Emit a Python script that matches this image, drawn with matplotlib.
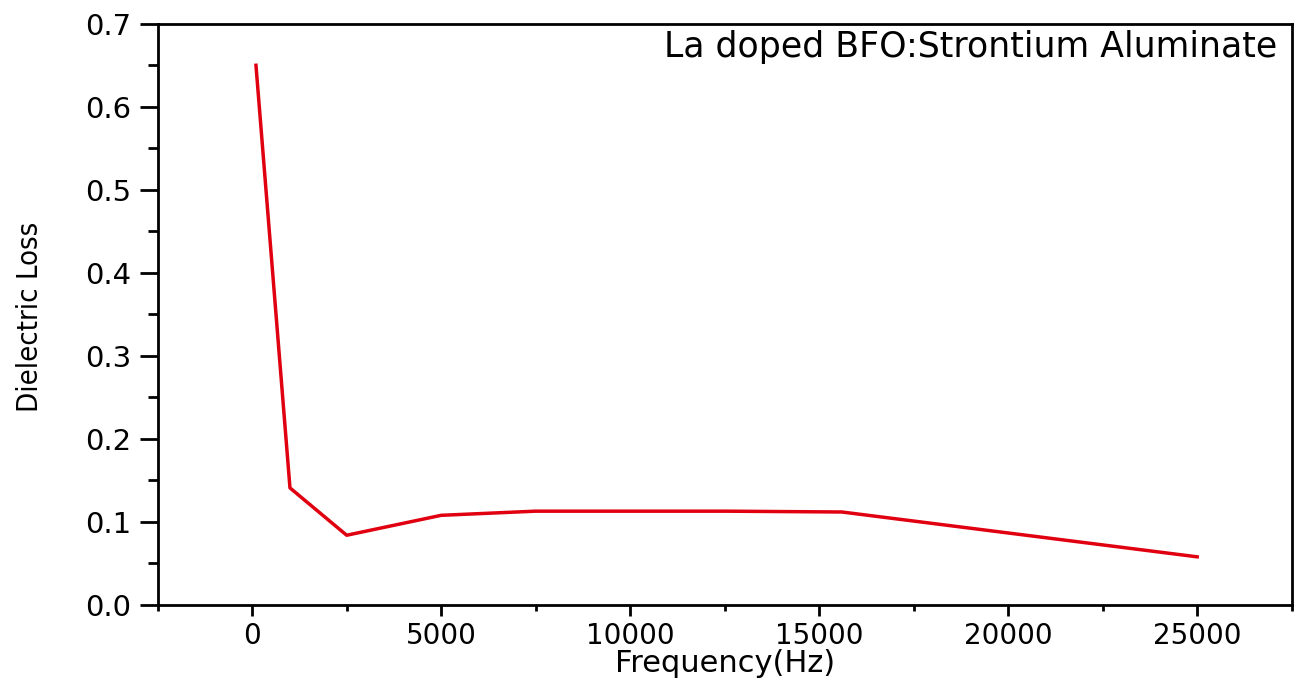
import matplotlib.pyplot as plt
from matplotlib.ticker import MultipleLocator

# Frequency (Hz) vs dielectric loss
frequency = [100, 1000, 2500, 5000, 7500, 10000, 12500, 15600, 25000]
dielectric_loss = [0.650, 0.141, 0.084, 0.108, 0.113, 0.113, 0.113, 0.112, 0.058]

sample_label = 'La doped BFO:Strontium Aluminate'
x_label = 'Frequency(Hz)'
y_label = 'Dielectric Loss'

plt.rcParams['font.family'] = ['DejaVu Sans']

fig = plt.figure(figsize=(13.14, 6.79), dpi=100)
ax = fig.add_axes([0.120, 0.109, 0.863, 0.856])

ax.plot(frequency, dielectric_loss, color='#e00010', linewidth=2.5)

ax.set_xlim(-2500, 27500)
ax.set_ylim(0, 0.7)
ax.xaxis.set_major_locator(MultipleLocator(5000))
ax.xaxis.set_minor_locator(MultipleLocator(2500))
ax.yaxis.set_major_locator(MultipleLocator(0.1))
ax.yaxis.set_minor_locator(MultipleLocator(0.05))
ax.yaxis.set_major_formatter(plt.FormatStrFormatter('%.1f'))

for s in ax.spines.values():
    s.set_linewidth(2.0)

ax.tick_params(axis='y', which='major', direction='out', length=13, width=2, labelsize=21, pad=6)
ax.tick_params(axis='y', which='minor', direction='out', length=7, width=2)
ax.tick_params(axis='x', which='major', direction='out', length=8, width=2, labelsize=20, pad=4)
ax.tick_params(axis='x', which='minor', direction='out', length=4.5, width=2)

ax.set_xlabel(x_label, fontsize=22)
ax.xaxis.set_label_coords(0.5, -0.076)
ax.xaxis.label.set_va('top')
ax.set_ylabel(y_label, fontsize=21, family='DejaVu Sans', fontstretch='condensed')
ax.yaxis.set_label_coords(-0.100, 0.495)

ax.text(0.987, 0.99, sample_label, transform=ax.transAxes, ha='right', va='top',
        fontsize=25)

fig.savefig('out.png', dpi=100)
